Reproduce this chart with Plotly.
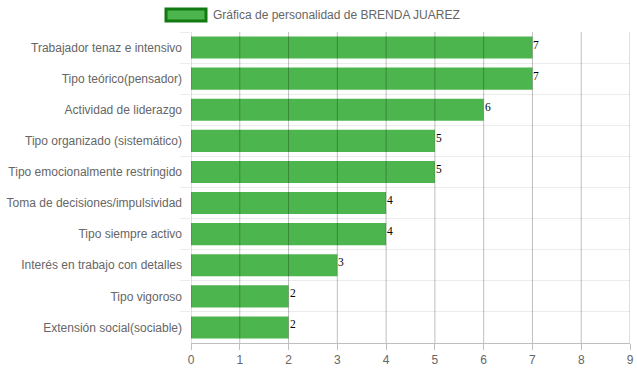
import plotly.graph_objects as go

categories = [
    "Trabajador tenaz e intensivo",
    "Tipo teórico(pensador)",
    "Actividad de liderazgo",
    "Tipo organizado (sistemático)",
    "Tipo emocionalmente restringido",
    "Toma de decisiones/impulsividad",
    "Tipo siempre activo",
    "Interés en trabajo con detalles",
    "Tipo vigoroso",
    "Extensión social(sociable)",
]
values = [7, 7, 6, 5, 5, 4, 4, 3, 2, 2]
x_ticks = [0, 1, 2, 3, 4, 5, 6, 7, 8, 9]
series_name = "Gráfica de personalidad de BRENDA JUAREZ"

W, H = 637, 371
L, R, T, B = 191, 7, 32, 28
pw, ph = W - L - R, H - T - B

def px_x(p):
    return (p - L) / pw

def px_y(p):
    return (H - B - p) / ph

fig = go.Figure()
fig.add_trace(go.Bar(
    x=values,
    y=categories,
    orientation="h",
    name=series_name,
    marker=dict(color="#4db54d", line=dict(width=0)),
    showlegend=False,
))

annotations = []
for c, v in zip(categories, values):
    annotations.append(dict(xref="x", yref="y", x=v, y=c, text=str(v), showarrow=False,
                            xanchor="left", yanchor="middle", xshift=-1, yshift=3,
                            font=dict(family="Liberation Serif", size=11.5, color="#000")))

# vertical grid lines drawn above the bars
shapes = []
for t in x_ticks:
    shapes.append(dict(type="line", xref="x", yref="paper", x0=t, x1=t, y0=0, y1=1,
                       line=dict(color="rgba(0,0,0,0.25)", width=1), layer="above"))

# custom legend box
shapes.append(dict(type="rect", xref="paper", yref="paper",
                   x0=px_x(166), x1=px_x(206), y0=px_y(21), y1=px_y(9),
                   fillcolor="#4db54d", line=dict(color="#107a10", width=3)))
annotations.append(dict(xref="paper", yref="paper", x=px_x(211), y=px_y(14.5),
                        text=series_name, showarrow=False, xanchor="left", yanchor="middle",
                        font=dict(family="Liberation Sans", size=12, color="#666")))

fig.update_layout(
    width=W, height=H,
    margin=dict(l=L, r=R, t=T, b=B, autoexpand=False),
    plot_bgcolor="white", paper_bgcolor="white",
    bargap=0.29,
    font=dict(family="Liberation Sans", size=12, color="#666"),
    shapes=shapes,
    annotations=annotations,
    xaxis=dict(range=[0, 9], tickvals=x_ticks, showgrid=False, zeroline=False,
               showline=True, linecolor="rgba(0,0,0,0.25)", linewidth=1,
               ticks="outside", ticklen=6, tickcolor="rgba(0,0,0,0.25)",
               tickfont=dict(size=12, color="#666"), automargin=False),
    yaxis=dict(autorange="reversed", tickson="boundaries", showgrid=True,
               gridcolor="#ececec", gridwidth=1, ticks="outside", ticklen=10,
               tickcolor="#ececec", showline=False, zeroline=False,
               ticklabelstandoff=8,
               tickfont=dict(size=12, color="#666"), automargin=False),
)

fig.write_html("out.html", config={"displayModeBar": False},
               post_script="document.body.style.margin='0';document.body.style.overflow='hidden';")
